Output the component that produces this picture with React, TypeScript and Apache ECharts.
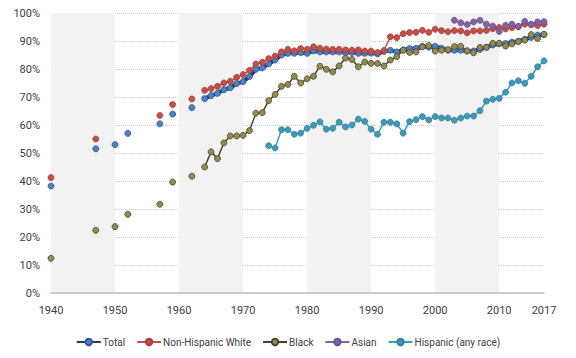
import React, { useEffect, useRef } from "react";
import * as echarts from "echarts";

// Sparse early survey years
const earlyYears = [1940, 1947, 1950, 1952, 1957, 1959, 1962];
const totalEarly = [38.2, 51.5, 53.0, 57.0, 60.4, 63.9, 66.2];
const whiteEarly = [41.2, 55.0, null, null, 63.4, 67.3, 69.3];
const blackEarly = [12.4, 22.4, 23.7, 28.1, 31.7, 39.6, 41.7];

// Annual values from 1964 to 2017
const annualStart = 1964;
const totalAnnual = [
  69.4, 70.5, 71.3, 72.6, 73.3, 74.8, 75.5, 77.3, 79.9, 80.4,
  81.8, 83.2, 85.0, 85.6, 85.6, 85.8, 85.6, 86.5, 86.1, 86.1,
  86.1, 86.1, 85.9, 85.9, 85.6, 85.6, 85.7, 85.4, 86.3, 86.7,
  86.1, 86.8, 87.3, 87.4, 88.1, 87.8, 88.1, 87.4, 86.7, 86.7,
  86.7, 86.4, 86.4, 87.0, 87.8, 88.6, 89.0, 89.1, 89.6, 89.9,
  90.6, 91.3, 92.1, 92.3,
];
const whiteAnnual = [
  72.4, 73.0, 73.8, 75.0, 75.6, 77.0, 78.0, 79.5, 81.8, 82.4,
  83.7, 84.6, 86.1, 87.0, 86.5, 87.3, 87.0, 87.9, 87.4, 87.1,
  87.0, 87.0, 86.8, 86.7, 86.8, 86.4, 86.4, 85.9, 86.6, 91.5,
  91.2, 92.6, 93.0, 93.1, 93.8, 93.1, 94.2, 93.7, 93.3, 93.7,
  93.6, 92.9, 93.6, 93.6, 93.8, 94.4, 94.8, 94.3, 94.8, 95.1,
  96.0, 95.8, 95.5, 96.0,
];
const blackAnnual = [
  45.0, 50.4, 48.0, 53.6, 56.1, 56.1, 56.3, 58.0, 64.2, 64.4,
  68.7, 70.9, 73.8, 74.5, 77.4, 75.0, 76.5, 77.4, 81.0, 79.9,
  79.0, 81.1, 83.9, 83.4, 80.8, 82.5, 82.0, 82.0, 81.1, 83.2,
  84.4, 86.7, 85.9, 86.1, 87.9, 88.4, 86.4, 86.7, 86.9, 88.0,
  88.1, 86.5, 85.8, 87.7, 87.7, 89.2, 89.2, 88.2, 89.0, 89.8,
  90.3, 92.3, 90.9, 92.4,
];
const asianStart = 2003;
const asianAnnual = [
  97.4, 96.5, 95.9, 96.8, 97.4, 96.0, 95.3, 93.4, 95.6, 96.0,
  95.2, 97.0, 96.0, 96.8, 96.9,
];
const hispanicStart = 1974;
const hispanicAnnual = [
  52.6, 51.8, 58.3, 58.3, 56.7, 57.1, 58.8, 59.9, 61.1, 58.5,
  58.8, 61.0, 59.3, 60.0, 62.1, 61.3, 58.5, 56.7, 61.0, 61.0,
  60.4, 57.1, 61.2, 61.9, 63.0, 61.8, 63.0, 62.5, 62.5, 61.7,
  62.5, 63.2, 63.2, 65.1, 68.5, 69.2, 69.5, 71.7, 75.0, 75.8,
  74.9, 77.4, 80.8, 82.9,
];

const xLabels = [1940, 1950, 1960, 1970, 1980, 1990, 2000, 2010, 2017];
const seriesNames = ["Total", "Non-Hispanic White", "Black", "Asian", "Hispanic (any race)"];

function build(early: (number | null)[] | null, start: number, annual: number[]) {
  const out: any[] = [];
  if (early) {
    early.forEach((v, i) => {
      if (v !== null) {
        out.push([earlyYears[i], v]);
        out.push([earlyYears[i], null]);
      }
    });
  }
  annual.forEach((v, i) => out.push([start + i, v]));
  return out;
}

export default function App() {
  const ref = useRef<HTMLDivElement>(null);
  useEffect(() => {
    if (!ref.current) return;
    document.body.style.margin = "0";
    const chart = echarts.init(ref.current, null, { renderer: "svg" });
    const font = "Roboto";
    const mk = (
      name: string,
      data: any[],
      lineColor: string,
      lineWidth: number,
      fill: string,
      border: string
    ) => ({
      name,
      type: "line",
      data,
      connectNulls: false,
      symbol: "circle",
      symbolSize: 6,
      showSymbol: true,
      lineStyle: { color: lineColor, width: lineWidth },
      itemStyle: { color: fill, borderColor: border, borderWidth: 0.8 },
      emphasis: { disabled: true },
    });
    chart.setOption({
      animation: false,
      grid: { left: 51, right: 32, top: 13, bottom: 65 },
      legend: {
        bottom: 6,
        left: "center",
        itemWidth: 24,
        itemHeight: 8,
        itemGap: 11,
        textStyle: { color: "#404040", fontSize: 10, fontFamily: font, padding: [0, 0, 0, -3] },
        data: seriesNames,
      },
      xAxis: {
        type: "value",
        min: 1940,
        max: 2017,
        interval: 10,
        axisLine: { show: true, lineStyle: { color: "#bfbfbf", width: 1.5 } },
        axisTick: { show: false },
        splitLine: { show: false },
        splitArea: { show: true, areaStyle: { color: ["#f2f2f2", "rgba(255,255,255,0)"] } },
        axisLabel: {
          customValues: xLabels,
          color: "#404040",
          fontSize: 11,
          fontFamily: font,
          margin: 12,
          formatter: (v: number) => String(v),
        },
      },
      yAxis: {
        type: "value",
        min: 0,
        max: 100,
        interval: 10,
        axisLine: { show: false },
        axisTick: { show: false },
        splitLine: { show: true, lineStyle: { color: "#c8c8c8", type: "dotted", width: 1 } },
        axisLabel: { formatter: "{value}%", color: "#404040", fontSize: 11, fontFamily: font, margin: 11 },
      },
      series: [
        mk(seriesNames[0], build(totalEarly, annualStart, totalAnnual), "#1f3864", 4, "#4f81bd", "#2f5597"),
        mk(seriesNames[1], build(whiteEarly, annualStart, whiteAnnual), "#c0504d", 1.5, "#c0504d", "#a33e3b"),
        mk(seriesNames[2], build(blackEarly, annualStart, blackAnnual), "#4a452a", 1.5, "#948a54", "#4a452a"),
        mk(seriesNames[3], build(null, asianStart, asianAnnual), "#8064a2", 1.5, "#8064a2", "#6a5190"),
        mk(seriesNames[4], build(null, hispanicStart, hispanicAnnual), "#4198b4", 1.5, "#4198b4", "#33829c"),
      ],
    });
    return () => chart.dispose();
  }, []);
  return <div ref={ref} style={{ width: 576, height: 358 }} />;
}
